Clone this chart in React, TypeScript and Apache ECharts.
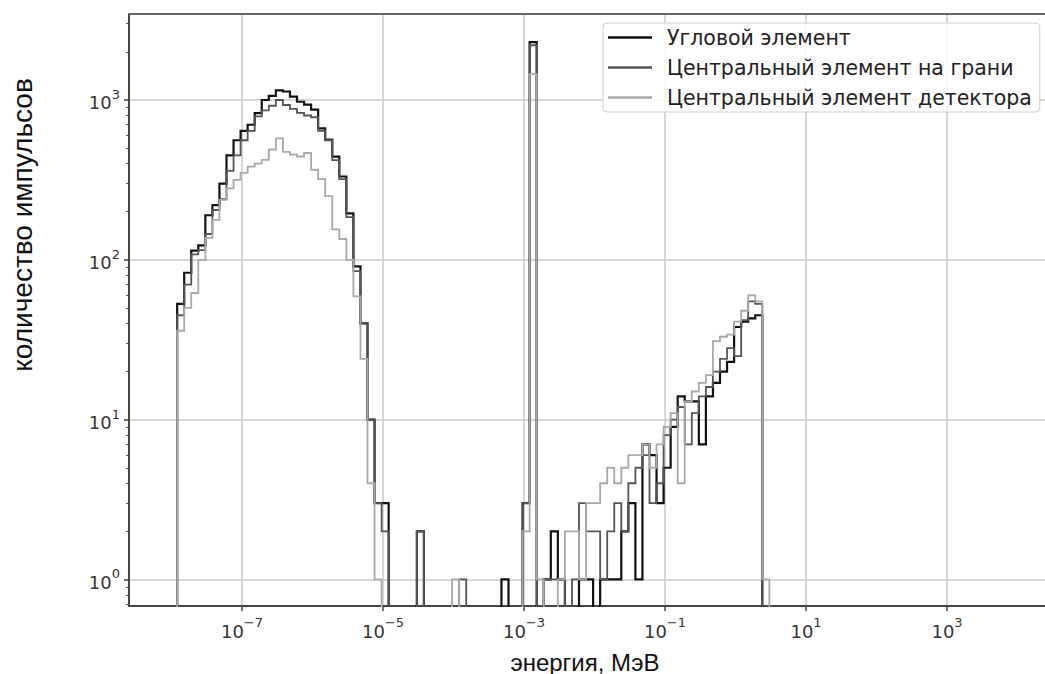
import React, { useEffect, useRef } from "react";
import * as echarts from "echarts";

// Histogram bins: log10(E, MeV) of the first edge and bin width in decades
const binStartLog = -7.92;
const binWidthLog = 0.1;

const seriesNames = [
  "Угловой элемент",
  "Центральный элемент на грани",
  "Центральный элемент детектора",
];

// counts per bin (bin k spans [binStartLog + k*w, binStartLog + (k+1)*w])
const cornerCounts = [
  53, 83, 114, 123, 190, 220, 300, 450, 560, 640, 700, 827, 1000, 1060, 1150, 1130, 1050, 975, 935, 870,
  665, 565, 442, 332, 195, 91, 40, 10, 3, 3,
  0, 0, 0, 0, 2, 0, 0, 0, 0, 0, 0, 0, 0, 0, 0, 0, 1, 0, 0, 3,
  2300,
  0, 1, 2, 1, 0, 0, 1, 1, 0, 1, 1, 1, 2, 3, 1, 7, 6, 3, 5, 9, 14, 13, 13, 7, 14, 17, 20, 23, 38, 41, 43, 45, 0,
];

const faceCenterCounts = [
  45, 70, 108, 115, 145, 205, 240, 360, 450, 560, 640, 790, 860, 920, 1000, 930, 880, 830, 800, 780,
  640, 560, 420, 320, 185, 85, 40, 10, 3, 2,
  0, 0, 0, 0, 2, 0, 0, 0, 0, 0, 1, 0, 0, 0, 0, 0, 0, 0, 0, 3,
  2200,
  0, 1, 1, 1, 0, 1, 3, 2, 2, 1, 2, 3, 2, 4, 5, 6, 3, 4, 8, 10, 12, 7, 11, 14, 16, 20, 24, 28, 25, 42, 55, 53, 0,
];

const detectorCenterCounts = [
  36, 50, 62, 100, 137, 178, 237, 280, 316, 350, 383, 400, 422, 490, 575, 473, 455, 443, 466, 366,
  320, 250, 155, 135, 100, 59, 24, 4, 1, 0,
  0, 0, 0, 0, 0, 0, 0, 0, 0, 1, 0, 0, 0, 0, 0, 0, 0, 0, 0, 2,
  1450,
  1, 0, 0, 1, 2, 2, 1, 3, 3, 4, 5, 4, 5, 6, 6, 7, 5, 7, 9, 11, 4, 13, 15, 17, 19, 31, 33, 34, 41, 48, 60, 55, 1,
];

const xTickExponents = [-7, -5, -3, -1, 1, 3];
const yTickExponents = [0, 1, 2, 3];

const xRange = [-8.603, 4.39];
const yRange = [-0.166, 3.538];

const seriesColors = ["#111111", "#555555", "#a9a9a9"];
const seriesWidths = [2.2, 1.8, 1.8];

const FLOOR = -4;

function stepData(counts: number[]) {
  const toY = (c: number) => (c > 0 ? Math.log10(c) : FLOOR);
  const pts: number[][] = [[binStartLog, FLOOR]];
  counts.forEach((c, k) => {
    const x0 = binStartLog + k * binWidthLog;
    const x1 = x0 + binWidthLog;
    pts.push([x0, toY(c)], [x1, toY(c)]);
  });
  pts.push([binStartLog + counts.length * binWidthLog, FLOOR]);
  return pts;
}

function minorLogTicks(lo: number, hi: number) {
  const out: number[] = [];
  for (let n = Math.floor(lo) - 1; n <= Math.ceil(hi); n++) {
    for (let k = 2; k <= 9; k++) {
      const v = Math.log10(k) + n;
      if (v > lo && v < hi) out.push(v);
    }
  }
  return out;
}

const supFmt = (v: number) => {
  const e = Math.round(v);
  const s = e < 0 ? "\u2212" + Math.abs(e) : String(e);
  return `{b|10}{s|${s}}`;
};

const tickRich = {
  b: { fontFamily: "DejaVu Sans", fontSize: 18, color: "#333", lineHeight: 24, verticalAlign: "bottom" },
  s: { fontFamily: "DejaVu Sans", fontSize: 13, color: "#333", lineHeight: 13, verticalAlign: "top" },
};

export default function App() {
  const ref = useRef<HTMLDivElement>(null);
  useEffect(() => {
    if (!ref.current) return;
    const chart = echarts.init(ref.current, undefined, { renderer: "svg" });
    const allCounts = [cornerCounts, faceCenterCounts, detectorCenterCounts];
    chart.setOption({
      animation: false,
      backgroundColor: "#ffffff",
      grid: {
        left: 129,
        top: 14,
        right: 0,
        bottom: 68,
        show: false,
      },
      legend: {
        orient: "vertical",
        left: 603,
        top: 23,
        icon: "rect",
        itemWidth: 44,
        itemHeight: 2.5,
        itemGap: 9,
        padding: [4, 8, 4, 5],
        borderColor: "#d0d0d0",
        borderWidth: 1,
        borderRadius: 4,
        backgroundColor: "rgba(255,255,255,0.85)",
        textStyle: {
          fontFamily: "DejaVu Sans",
          fontSize: 20.5,
          color: "#222",
          lineHeight: 20,
          padding: [0, 0, 0, 10],
        },
        data: seriesNames,
      },
      xAxis: [
        {
          type: "value",
          position: "bottom",
          min: xRange[0],
          max: xRange[1],
          axisLine: { show: true, onZero: false, lineStyle: { color: "#444", width: 2 } },
          axisTick: { show: true, customValues: xTickExponents, length: 5, lineStyle: { color: "#444", width: 1.5 } },
          axisLabel: { customValues: xTickExponents, formatter: supFmt, rich: tickRich, margin: 10 },
          splitLine: { show: true, lineStyle: { color: "#cdcdcd", width: 1.6 } },
        },
        {
          type: "value",
          position: "top",
          min: xRange[0],
          max: xRange[1],
          axisLine: { show: true, onZero: false, lineStyle: { color: "#666", width: 2 } },
          axisTick: { show: false },
          axisLabel: { show: false },
          splitLine: { show: false },
        },
      ],
      yAxis: [
        {
          type: "value",
          min: yRange[0],
          max: yRange[1],
          axisLine: { show: true, onZero: false, lineStyle: { color: "#444", width: 2 } },
          axisTick: { show: true, customValues: yTickExponents, length: 5, lineStyle: { color: "#444", width: 1.5 } },
          axisLabel: { customValues: yTickExponents, formatter: supFmt, rich: tickRich, margin: 9 },
          splitLine: { show: true, lineStyle: { color: "#cdcdcd", width: 1.6 } },
        },
        {
          type: "value",
          position: "left",
          min: yRange[0],
          max: yRange[1],
          axisLine: { show: false, onZero: false },
          axisLabel: { show: false },
          splitLine: { show: false },
          axisTick: { show: true, customValues: minorLogTicks(yRange[0], yRange[1]), length: 3, lineStyle: { color: "#555", width: 1 } },
        },
      ],
      series: allCounts.map((counts, i) => ({
        name: seriesNames[i],
        type: "line",
        xAxisIndex: 0,
        yAxisIndex: 0,
        data: stepData(counts),
        symbol: "none",
        showSymbol: false,
        clip: true,
        lineStyle: { color: seriesColors[i], width: seriesWidths[i], join: "miter" },
        itemStyle: { color: seriesColors[i] },
        z: 2 + i,
      })),
      graphic: [
        {
          type: "text",
          x: 585,
          y: 662,
          style: {
            text: "энергия, МэВ",
            fontFamily: "Liberation Sans",
            fontSize: 24,
            fill: "#111",
            align: "center",
            verticalAlign: "middle",
          },
        },
        {
          type: "text",
          x: 22,
          y: 225,
          rotation: Math.PI / 2,
          style: {
            text: "количество импульсов",
            fontFamily: "Liberation Sans",
            fontSize: 28,
            fill: "#111",
            align: "center",
            verticalAlign: "middle",
          },
        },
      ],
    });
    return () => chart.dispose();
  }, []);
  return (
    <div
      ref={ref}
      style={{ position: "absolute", left: 0, top: 0, width: 1045, height: 674, background: "#fff" }}
    />
  );
}
